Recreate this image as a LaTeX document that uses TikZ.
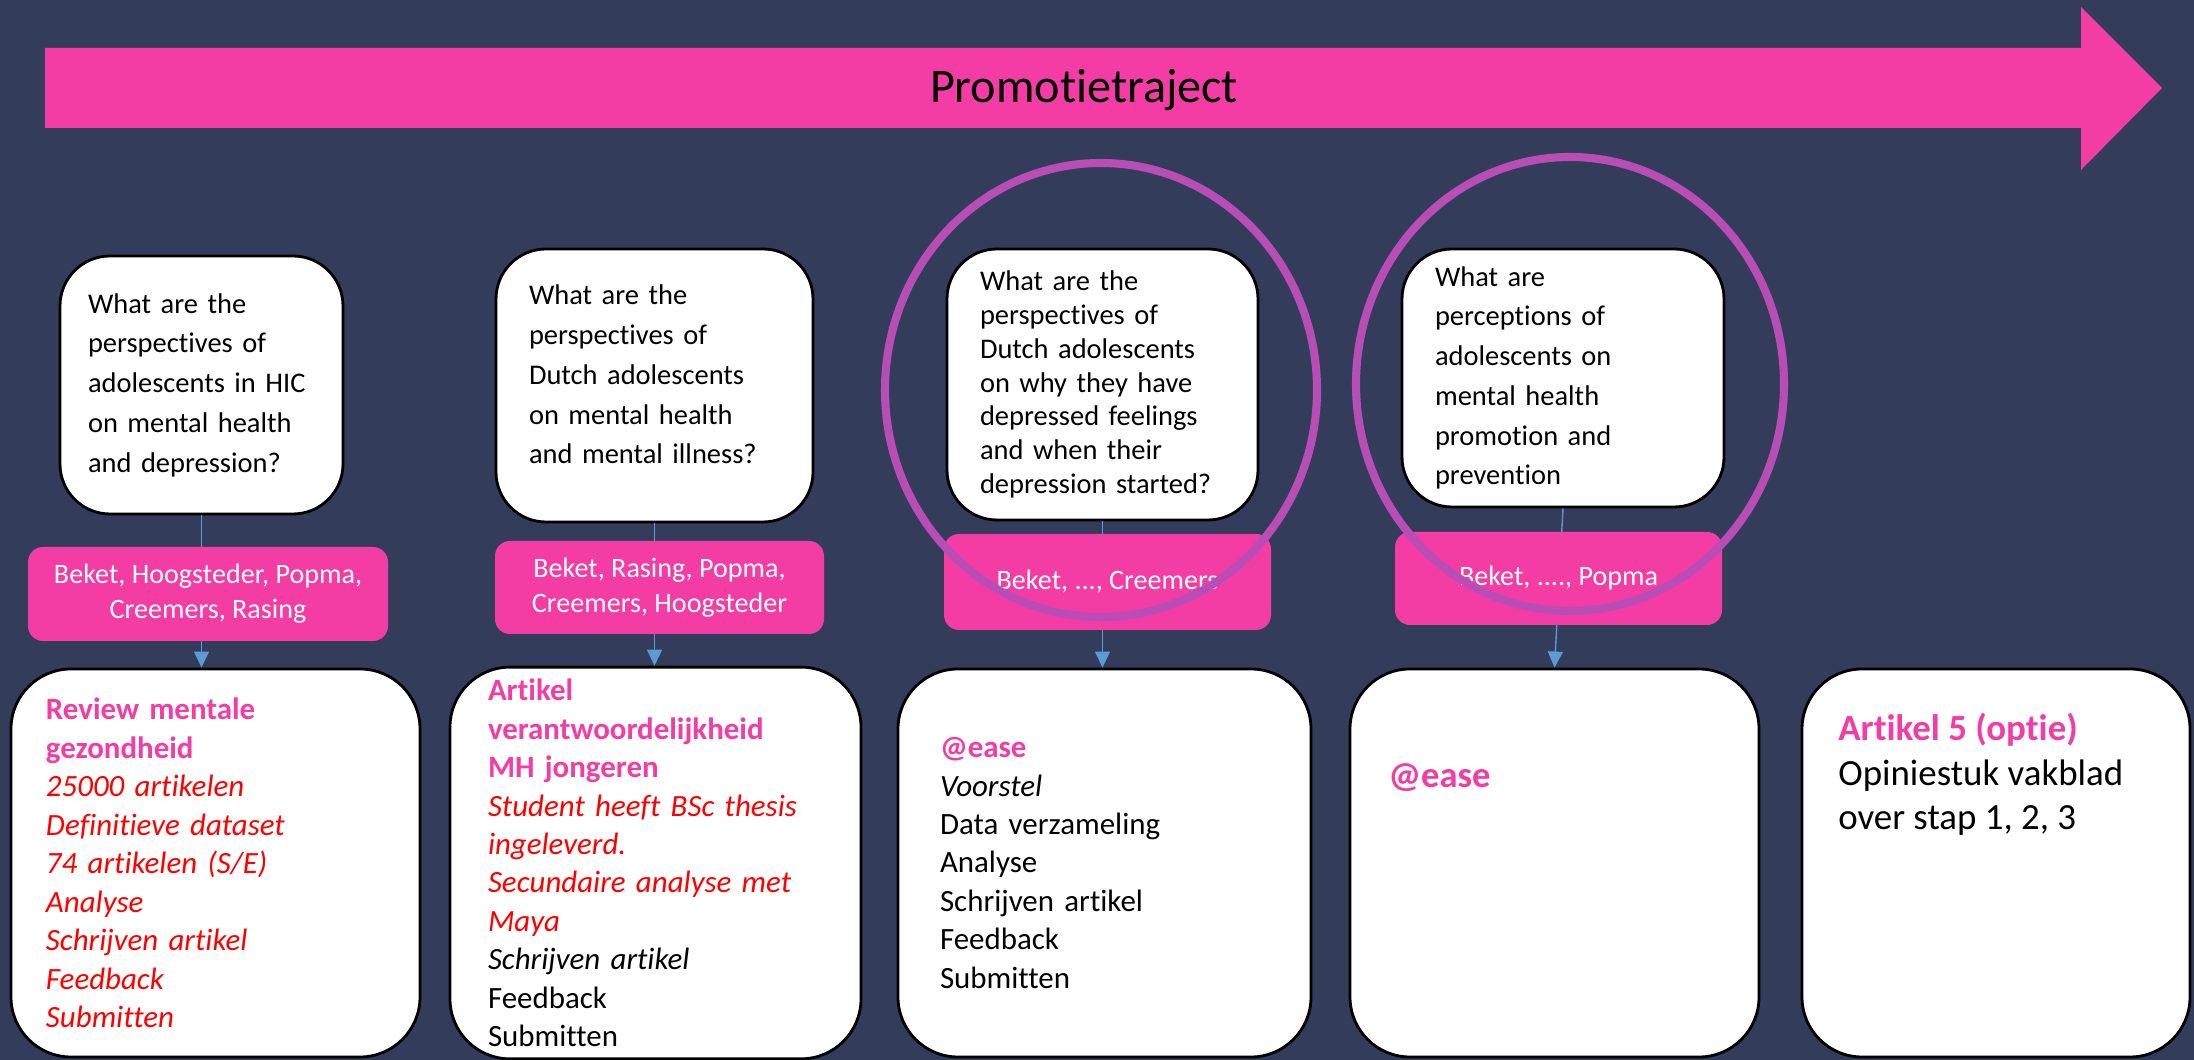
\documentclass[tikz,border=0pt]{standalone}
\usepackage{fontspec}
\setmainfont{Carlito}[Ligatures=NoCommon]
\usetikzlibrary{positioning, arrows.meta}

\definecolor{backdrop}{HTML}{343C5B}
\definecolor{hotpink}{HTML}{F33DA5}
\definecolor{ringcol}{HTML}{B84DB5}
\definecolor{linkblue}{HTML}{5B9BD5}

\newcommand{\pinkhead}[1]{\textcolor{hotpink}{\bfseries #1}}
\newcommand{\redline}[1]{\textcolor{red}{\itshape #1}}

\tikzstyle{question} = [rectangle, rounded corners=0.5cm, draw=black, line width=0.8pt, fill=white, align=left, inner xsep=0.33cm, font=\fontsize{8.1}{11.3}\selectfont]
\tikzstyle{authors} = [rectangle, rounded corners=0.15cm, fill=hotpink, text=white, align=center, font=\fontsize{8}{10}\selectfont]
\tikzstyle{task} = [rectangle, rounded corners=0.6cm, draw=black, line width=0.8pt, fill=white, align=left, inner xsep=0.38cm, minimum height=3.88cm, font=\fontsize{8.8}{10.95}\selectfont]
\tikzstyle{link} = [linkblue, line width=0.4pt, -{Triangle[width=0.15cm, length=0.16cm]}]
\tikzstyle{ring} = [ringcol, line width=2.3pt]

\begin{document}
\begin{tikzpicture}

\fill [backdrop] (0,0) rectangle (21.94,10.60);
\useasboundingbox (0,0) rectangle (21.94,10.60);

\fill [hotpink] (0.45,10.12) -- (20.81,10.12) -- (20.81,10.53) -- (21.62,9.72) -- (20.81,8.90) -- (20.81,9.32) -- (0.45,9.32) -- cycle;
\node (title) at (10.84,9.70) [font=\fontsize{13.7}{16}\selectfont] {Promotietraject};

\node (q1) [question, text width=2.27cm, inner xsep=0.28cm, minimum height=2.58cm] at (2.015,6.75) {What are the\\ perspectives of\\ adolescents in HIC\\ on mental health\\ and depression?};
\node (q2) [question, text width=2.51cm, minimum height=2.73cm] at (6.545,6.745) {What are the\\ perspectives of\\ Dutch adolescents\\ on mental health\\ and mental illness?\rule[-0.22cm]{0pt}{0pt}};
\node (q3) [question, text width=2.45cm, minimum height=2.71cm, font=\fontsize{8.1}{9.6}\selectfont] at (11.025,6.755) {What are the\\ perspectives of\\ Dutch adolescents\\ on why they have\\ depressed feelings\\ and when their\\ depression started?};
\node (q4) [question, text width=2.56cm, minimum height=2.58cm] at (15.63,6.82) {What are\\ perceptions of\\ adolescents on\\ mental health\\ promotion and\\ prevention};

\node (b1) [task, text width=3.39cm, inner xsep=0.35cm] at (2.155,1.97) {\pinkhead{Review mentale}\\ \pinkhead{gezondheid}\\ \redline{25000 artikelen}\\ \redline{Definitieve dataset}\\ \redline{74 artikelen (S/E)}\\ \redline{Analyse}\\ \redline{Schrijven artikel}\\ \redline{Feedback}\\ \redline{Submitten}};
\node (b2) [task, text width=3.35cm] at (6.555,1.97) {\pinkhead{Artikel}\\ \pinkhead{verantwoordelijkheid}\\ \pinkhead{MH jongeren}\\ \redline{Student heeft BSc thesis}\\ \redline{ingeleverd.}\\ \redline{Secundaire analyse met}\\ \redline{Maya}\\ \textit{Schrijven artikel}\\ Feedback\\ Submitten};
\node (b3) [task, text width=3.29cm, inner xsep=0.42cm] at (11.045,1.97) {\pinkhead{@ease}\\ \textit{Voorstel}\\ Data verzameling\\ Analyse\\ Schrijven artikel\\ Feedback\\ Submitten};
\node (b4) [task, minimum width=4.09cm] at (15.545,1.97) {};
\node (b5) [task, minimum width=3.88cm] at (19.96,1.97) {};

\node (b4text) [below right=0.95cm and 0.39cm of b4.north west, inner sep=0pt, font=\fontsize{10.4}{12}\selectfont] {\pinkhead{@ease}};
\node (b5text) [below right=0.45cm and 0.37cm of b5.north west, inner sep=0pt, align=left, font=\fontsize{10.5}{12.7}\selectfont] {\pinkhead{Artikel 5 (optie)}\\ Opiniestuk vakblad\\ over stap 1, 2, 3};

\draw [link] (q1.south) -- (q1.south |- b1.north);
\draw [link] (q2.south) -- (q2.south |- b2.north);
\draw [link] (q3.south) -- (q3.south |- b3.north);
\draw [link] (q4.south) -- (b4.north);

\node (a1) [authors, minimum width=3.60cm, minimum height=0.94cm] at (2.08,4.66) {Beket, Hoogsteder, Popma,\\ Creemers, Rasing};
\node (a2) [authors, minimum width=3.29cm, minimum height=0.93cm] at (6.595,4.725) {Beket, Rasing, Popma,\\ Creemers, Hoogsteder};
\node (a3) [authors, minimum width=3.27cm, minimum height=0.96cm] at (11.075,4.78) {Beket, ..., Creemers};
\node (a4) [authors, minimum width=3.27cm, minimum height=0.93cm] at (15.585,4.815) {Beket, ...., Popma};

\draw [ring] (11.01,6.70) ellipse (2.16 and 2.27);
\draw [ring] (15.70,6.76) ellipse (2.14 and 2.27);

\end{tikzpicture}
\end{document}
